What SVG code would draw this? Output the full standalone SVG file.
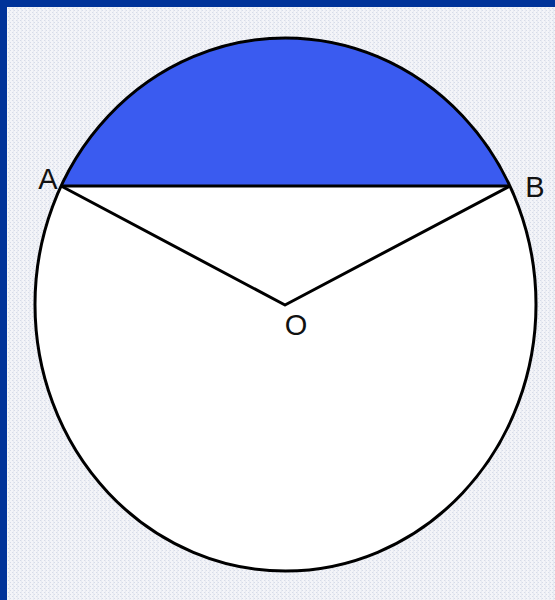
<svg xmlns="http://www.w3.org/2000/svg" width="555" height="600" viewBox="0 0 555 600">
<defs>
<pattern id="bg" width="4" height="4" patternUnits="userSpaceOnUse">
<rect width="4" height="4" fill="#f3f4f8"/>
<rect x="0" y="0" width="1" height="1" fill="#d6dbe8"/>
<rect x="2" y="2" width="1" height="1" fill="#d6dbe8"/>
<rect x="1" y="0" width="1" height="4" fill="#e8ebf2"/>
</pattern>
<style>
.ln{stroke:#000;stroke-width:3;fill:none;stroke-linejoin:round}
.lbl{font-family:"Liberation Sans",Arial,sans-serif;font-size:29px;fill:#111;text-anchor:middle}
</style>
</defs>
<rect width="555" height="600" fill="url(#bg)"/>
<rect x="0" y="0" width="555" height="7" fill="#003399"/>
<rect x="0" y="0" width="7" height="600" fill="#003399"/>
<g id="circle">
<ellipse cx="285.5" cy="304.5" rx="250.5" ry="266.5" fill="#fff"/>
<path id="segment" d="M61.1,186 A250.5,266.5 0 0 1 509.9,186 Z" fill="#3a5bf0"/>
<ellipse cx="285.5" cy="304.5" rx="250.5" ry="266.5" class="ln"/>
</g>
<g id="connectors">
<line x1="61.1" y1="186" x2="509.9" y2="186" class="ln"/>
<polyline points="61.1,186 285,305 509.9,186" class="ln"/>
</g>
<g id="label-A"><text x="48" y="189" class="lbl">A</text></g>
<g id="label-B"><text x="535" y="197" class="lbl">B</text></g>
<g id="label-O"><text x="296" y="335" class="lbl">O</text></g>
</svg>
